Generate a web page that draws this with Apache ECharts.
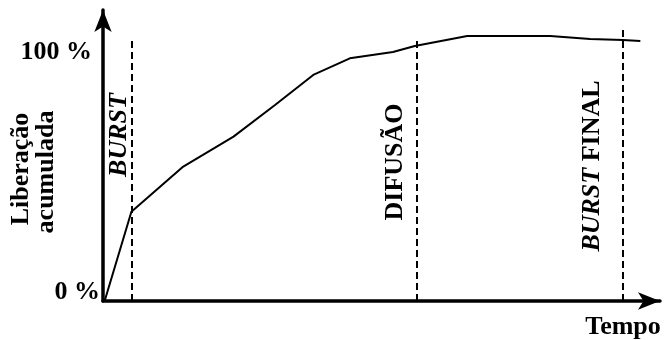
<!DOCTYPE html>
<html>
<head>
<meta charset="utf-8">
<script src="https://cdn.jsdelivr.net/npm/echarts@6/dist/echarts.min.js"></script>
<style>
  html, body { margin: 0; padding: 0; background: #fff; }
  #chart { width: 664px; height: 340px; }
</style>
</head>
<body>
<div id="chart"></div>
<script>
// curva de liberação acumulada (tempo em unidades arbitrárias, 100 = liberação total)
var tempo = [0.3, 5.2, 14.7, 23.9, 31.5, 38.5, 45.2, 53.1, 57.1, 66.7, 81.9, 89.2, 95.2, 98.4];
var liberacao = [0, 37.2, 56.0, 68.5, 81.7, 94.2, 101.1, 103.75, 106.25, 110.4, 110.4, 109.2, 108.75, 108.3];

// linhas tracejadas das fases
var fases = ["BURST", "DIFUSÃO", "BURST FINAL"];
var faseX = [5.26, 57.4, 95.2];
var faseTopo = [108.75, 109.6, 114.2];

var yTicks = [0, 100];
var yTickLabels = ["0 %", "100 %"];

var SERIF = '"Liberation Serif", "Times New Roman", serif';
var FS = 26;

var pontos = tempo.map(function (t, i) { return [t, liberacao[i]]; });
var linhasFase = faseX.map(function (x, i) {
  return [{ coord: [x, 0] }, { coord: [x, faseTopo[i]] }];
});

var myChart = echarts.init(document.getElementById("chart"));
var option = {
  animation: false,
  grid: { left: 103, right: 4, top: 10, bottom: 39 },
  xAxis: {
    type: "value",
    min: 0,
    max: 102,
    splitLine: { show: false },
    axisTick: { show: false },
    axisLabel: { show: false },
    axisLine: {
      onZero: false,
      symbol: ["none", "arrow"],
      symbolSize: [13, 22],
      lineStyle: { color: "#000", width: 3.5 }
    }
  },
  yAxis: {
    type: "value",
    min: 0,
    max: 121.25,
    interval: 100,
    splitLine: { show: false },
    axisTick: { show: false },
    axisLine: {
      show: true,
      symbol: ["none", "arrow"],
      symbolSize: [13, 22],
      lineStyle: { color: "#000", width: 3.5 }
    },
    axisLabel: {
      margin: 3,
      formatter: function (v) {
        var i = yTicks.indexOf(v);
        if (i < 0) return "";
        return v === 0 ? "{z|" + yTickLabels[i] + "}" : "{h|" + yTickLabels[i] + "}";
      },
      rich: {
        z: { fontFamily: SERIF, fontWeight: "bold", fontSize: FS, color: "#000", padding: [0, 0, 18, 0] },
        h: { fontFamily: SERIF, fontWeight: "bold", fontSize: FS, color: "#000", padding: [0, 8, 18, 0] }
      }
    }
  },
  series: [
    {
      type: "line",
      data: pontos,
      symbol: "none",
      lineStyle: { color: "#000", width: 2 },
      markLine: {
        silent: true,
        symbol: ["none", "none"],
        label: { show: false },
        lineStyle: { color: "#000", width: 2, type: [7, 4] },
        data: linhasFase
      }
    }
  ],
  graphic: [
    {
      type: "text", x: 21, y: 169, rotation: Math.PI / 2,
      style: { text: "Liberação", font: "bold " + FS + "px " + SERIF, fill: "#000", align: "center", verticalAlign: "middle" }
    },
    {
      type: "text", x: 46, y: 172, rotation: Math.PI / 2,
      style: { text: "acumulada", font: "bold " + FS + "px " + SERIF, fill: "#000", align: "center", verticalAlign: "middle" }
    },
    {
      type: "text", x: 119, y: 135, rotation: Math.PI / 2,
      style: { text: fases[0], font: "italic bold " + FS + "px " + SERIF, fill: "#000", align: "center", verticalAlign: "middle" }
    },
    {
      type: "text", x: 395, y: 162, rotation: Math.PI / 2,
      style: { text: fases[1], font: "bold " + FS + "px " + SERIF, fill: "#000", align: "center", verticalAlign: "middle" }
    },
    {
      type: "text", x: 592, y: 166, rotation: Math.PI / 2,
      style: {
        text: "{i|BURST}{b| FINAL}",
        align: "center", verticalAlign: "middle",
        rich: {
          i: { font: "italic bold " + FS + "px " + SERIF, fill: "#000" },
          b: { font: "bold " + FS + "px " + SERIF, fill: "#000" }
        }
      }
    },
    {
      type: "text", x: 623, y: 327,
      style: { text: "Tempo", font: "bold " + FS + "px " + SERIF, fill: "#000", align: "center", verticalAlign: "middle" }
    }
  ]
};
myChart.setOption(option);
window.addEventListener("resize", function () { myChart.resize(); });
</script>
</body>
</html>
